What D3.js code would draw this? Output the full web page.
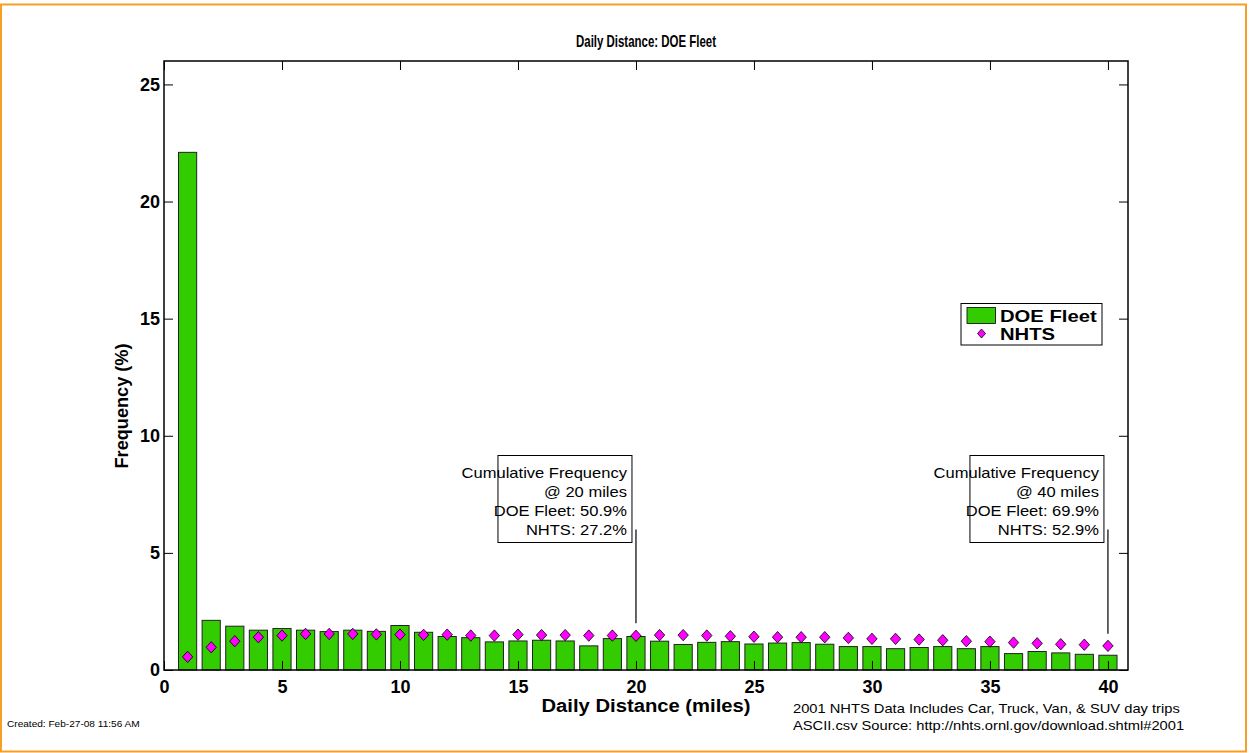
<!DOCTYPE html>
<html lang="en">
<head>
<meta charset="UTF-8">
<title>Daily Distance: DOE Fleet</title>
<style>
    body { margin: 0; background: #fff; }
    text { font-family: "Liberation Sans", Arial, sans-serif; }
    .tick text { font-weight: bold; font-size: 18px; fill: #000; }
    .tick line { stroke: #000; }
</style>
<script src="https://cdn.jsdelivr.net/npm/d3@7"></script>
</head>
<body>
<svg width="1249" height="753"></svg>
<script>
// daily distance bins (miles)
var miles = [1,2,3,4,5,6,7,8,9,10,11,12,13,14,15,16,17,18,19,20,
             21,22,23,24,25,26,27,28,29,30,31,32,33,34,35,36,37,38,39,40];

// DOE Fleet frequency (%)
var doeFleet = [22.1,2.12,1.87,1.70,1.77,1.70,1.64,1.70,1.65,1.90,
                1.61,1.43,1.38,1.20,1.24,1.27,1.24,1.03,1.34,1.43,
                1.23,1.09,1.18,1.21,1.11,1.15,1.17,1.10,1.00,1.00,
                0.91,0.96,1.00,0.91,1.00,0.70,0.79,0.73,0.67,0.63];

// NHTS frequency (%)
var nhts = [0.56,0.97,1.23,1.40,1.47,1.54,1.54,1.54,1.52,1.51,
            1.50,1.51,1.47,1.47,1.51,1.49,1.49,1.47,1.47,1.46,
            1.49,1.49,1.47,1.44,1.42,1.40,1.40,1.40,1.37,1.33,
            1.33,1.30,1.27,1.23,1.21,1.17,1.14,1.10,1.08,1.03];

var xTicks = [0,5,10,15,20,25,30,35,40];
var yTicks = [0,5,10,15,20,25];

// cumulative frequency callouts
var calloutMiles = [20, 40];
var calloutTop = [6.0, 6.0];
var calloutBottom = [2.0, 1.55];
var calloutText = [
    ["Cumulative Frequency", "@ 20 miles", "DOE Fleet: 50.9%", "NHTS: 27.2%"],
    ["Cumulative Frequency", "@ 40 miles", "DOE Fleet: 69.9%", "NHTS: 52.9%"]
];

var svg = d3.select("svg");

// the source picture is a bit wider than plain Arial, stretch text to match
function stretch(sel, k) {
    sel.each(function () {
        var w = this.getComputedTextLength();
        d3.select(this).attr("textLength", w * k).attr("lengthAdjust", "spacingAndGlyphs");
    });
    return sel;
}

// orange page frame
svg.append("rect")
    .attr("x", 1).attr("y", 4.5)
    .attr("width", 1245).attr("height", 747)
    .attr("fill", "none")
    .attr("stroke", "#f5a025")
    .attr("stroke-width", 2);

var pLeft = 164, pRight = 1128, pTop = 61, pBottom = 670;

var x = d3.scaleLinear().domain([0, 40.85]).range([pLeft, pRight]);
var y = d3.scaleLinear().domain([0, 26]).range([pBottom, pTop]);

var bw = x(0.77) - x(0);

// bars
svg.append("g")
    .selectAll("rect")
    .data(doeFleet)
    .enter().append("rect")
    .attr("x", function (d, i) { return x(miles[i]) - bw / 2; })
    .attr("y", function (d) { return y(d); })
    .attr("width", bw)
    .attr("height", function (d) { return y(0) - y(d); })
    .attr("fill", "#33cc00")
    .attr("stroke", "#222")
    .attr("stroke-width", 1);

// diamonds
function diamond(cx, cy, hw, hh) {
    return "M" + cx + "," + (cy - hh) + "L" + (cx + hw) + "," + cy +
        "L" + cx + "," + (cy + hh) + "L" + (cx - hw) + "," + cy + "Z";
}

svg.append("g")
    .selectAll("path")
    .data(nhts)
    .enter().append("path")
    .attr("d", function (d, i) { return diamond(x(miles[i]), y(d), 5.2, 5.7); })
    .attr("fill", "#ff00ff")
    .attr("stroke", "#000")
    .attr("stroke-width", 0.8);

// axes with inward ticks
svg.append("g")
    .attr("transform", "translate(0," + pBottom + ")")
    .call(d3.axisBottom(x).tickValues(xTicks).tickSizeInner(-9).tickSizeOuter(0).tickPadding(6))
    .call(function (g) { g.select(".domain").remove(); })
    .selectAll("text").attr("dy", "0.95em");

svg.append("g")
    .attr("transform", "translate(0," + pTop + ")")
    .call(d3.axisTop(x).tickValues(xTicks).tickSizeInner(-9).tickSizeOuter(0).tickFormat(""))
    .call(function (g) { g.select(".domain").remove(); });

svg.append("g")
    .attr("transform", "translate(" + pLeft + ",0)")
    .call(d3.axisLeft(y).tickValues(yTicks).tickSizeInner(-9).tickSizeOuter(0).tickPadding(4))
    .call(function (g) { g.select(".domain").remove(); });

svg.append("g")
    .attr("transform", "translate(" + pRight + ",0)")
    .call(d3.axisRight(y).tickValues(yTicks).tickSizeInner(-9).tickSizeOuter(0).tickFormat(""))
    .call(function (g) { g.select(".domain").remove(); });

svg.append("rect")
    .attr("x", pLeft).attr("y", pTop)
    .attr("width", pRight - pLeft).attr("height", pBottom - pTop)
    .attr("fill", "none")
    .attr("stroke", "#000")
    .attr("stroke-width", 1.5);

// titles
svg.append("text")
    .attr("x", (pLeft + pRight) / 2).attr("y", 47)
    .attr("text-anchor", "middle")
    .attr("font-weight", "bold").attr("font-size", 16.5)
    .attr("textLength", 140).attr("lengthAdjust", "spacingAndGlyphs")
    .text("Daily Distance: DOE Fleet");

svg.append("text")
    .attr("x", (pLeft + pRight) / 2).attr("y", 712)
    .attr("text-anchor", "middle")
    .attr("font-weight", "bold").attr("font-size", 17.5)
    .attr("textLength", 209).attr("lengthAdjust", "spacingAndGlyphs")
    .text("Daily Distance (miles)");

svg.append("text")
    .attr("transform", "translate(128,406) rotate(-90)")
    .attr("text-anchor", "middle")
    .attr("font-weight", "bold").attr("font-size", 17.5)
    .attr("textLength", 125).attr("lengthAdjust", "spacingAndGlyphs")
    .text("Frequency (%)");

// legend
var lg = svg.append("g");
lg.append("rect")
    .attr("x", 961).attr("y", 303.5).attr("width", 141).attr("height", 41.5)
    .attr("fill", "#fff").attr("stroke", "#000").attr("stroke-width", 1);
lg.append("rect")
    .attr("x", 967).attr("y", 307.5).attr("width", 28.5).attr("height", 16)
    .attr("fill", "#33cc00").attr("stroke", "#000").attr("stroke-width", 0.8);
lg.append("path")
    .attr("d", diamond(981.5, 333.5, 4, 4.5))
    .attr("fill", "#ff00ff").attr("stroke", "#000").attr("stroke-width", 0.8);
stretch(lg.append("text").attr("x", 1000).attr("y", 321.5)
    .attr("font-weight", "bold").attr("font-size", 17).text("DOE Fleet"), 1.19);
stretch(lg.append("text").attr("x", 1000).attr("y", 340)
    .attr("font-weight", "bold").attr("font-size", 17).text("NHTS"), 1.19);

// callouts
calloutMiles.forEach(function (m, k) {
    var cx = x(m);
    svg.append("line")
        .attr("x1", cx).attr("x2", cx)
        .attr("y1", y(calloutTop[k])).attr("y2", y(calloutBottom[k]))
        .attr("stroke", "#000").attr("stroke-width", 1.2);
    svg.append("rect")
        .attr("x", cx - 138).attr("y", 455.5)
        .attr("width", 134).attr("height", 87)
        .attr("fill", "#fff").attr("stroke", "#000").attr("stroke-width", 1);
    calloutText[k].forEach(function (t, j) {
        stretch(svg.append("text")
            .attr("x", cx - 9).attr("y", 478 + j * 19)
            .attr("text-anchor", "end")
            .attr("font-size", 14.5)
            .text(t), 1.14);
    });
});

// footer notes
stretch(svg.append("text")
    .attr("x", 7).attr("y", 727)
    .attr("font-size", 9)
    .text("Created: Feb-27-08 11:56 AM"), 1.12);

stretch(svg.append("text")
    .attr("x", 793).attr("y", 712.5)
    .attr("font-size", 13)
    .text("2001 NHTS Data Includes Car, Truck, Van, & SUV day trips"), 1.13);
stretch(svg.append("text")
    .attr("x", 793).attr("y", 729.5)
    .attr("font-size", 13)
    .text("ASCII.csv Source: http://nhts.ornl.gov/download.shtml#2001"), 1.13);
</script>
</body>
</html>
